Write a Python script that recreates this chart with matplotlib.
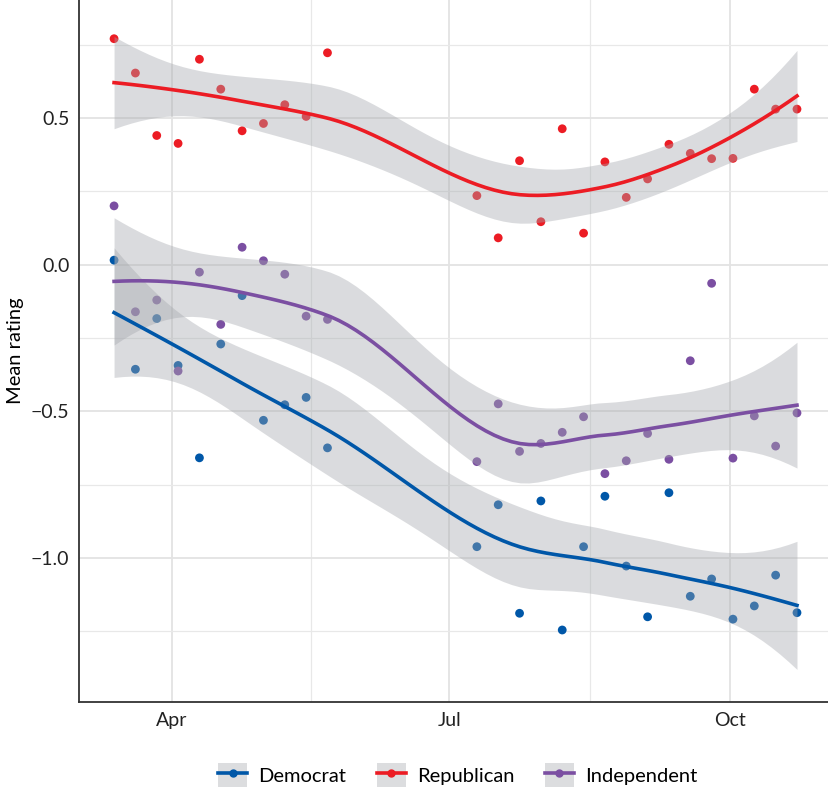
import numpy as np
import pandas as pd
import matplotlib
matplotlib.use("Agg")
import matplotlib.pyplot as plt
import matplotlib.dates as mdates
from matplotlib.lines import Line2D
from matplotlib.patches import Patch
from matplotlib.ticker import MultipleLocator, FixedLocator, FuncFormatter

plt.rcParams['font.family'] = ['Lato', 'DejaVu Sans']

# weekly polls, weeks 11-16 are missing
week_index = [0, 1, 2, 3, 4, 5, 6, 7, 8, 9, 10,
              17, 18, 19, 20, 21, 22, 23, 24, 25, 26, 27, 28, 29, 30, 31, 32]
start_date = "2020-03-13"

republican = [0.770, 0.653, 0.440, 0.413, 0.700, 0.598, 0.456, 0.481, 0.545, 0.505, 0.722,
              0.235, 0.091, 0.354, 0.146, 0.463, 0.107, 0.350, 0.229, 0.292, 0.410, 0.379,
              0.361, 0.362, 0.598, 0.530, 0.530]
independent = [0.200, -0.161, -0.121, -0.363, -0.026, -0.204, 0.059, 0.013, -0.033, -0.176, -0.187,
               -0.672, -0.475, -0.637, -0.610, -0.572, -0.519, -0.713, -0.669, -0.576, -0.664,
               -0.328, -0.064, -0.660, -0.516, -0.619, -0.506]
democrat = [0.015, -0.357, -0.184, -0.344, -0.659, -0.271, -0.106, -0.531, -0.478, -0.453, -0.625,
            -0.962, -0.819, -1.189, -0.806, -1.246, -0.962, -0.790, -1.028, -1.201, -0.778,
            -1.131, -1.072, -1.209, -1.164, -1.059, -1.187]

party_names = ["Democrat", "Republican", "Independent"]
party_colors = ["#0057A8", "#EC1C24", "#7B4FA2"]


def t_ppf(p, df):
    # quantile of Student t, numerically (no scipy)
    grid = np.linspace(0, 10, 20001)
    pdf = (1 + grid ** 2 / df) ** (-(df + 1) / 2)
    cdf = np.concatenate([[0], np.cumsum((pdf[1:] + pdf[:-1]) / 2 * np.diff(grid))])
    cdf = 0.5 + 0.5 * cdf / cdf[-1]
    return np.interp(p, cdf, grid)


def local_rows(x, x0, span):
    """operator rows for value and slope of local quadratic fit at x0"""
    n = len(x)
    q = int(np.floor(n * span))
    d = np.abs(x - x0)
    h = np.sort(d)[q - 1]
    w = np.clip(1 - (d / h) ** 3, 0, None) ** 3
    X = np.column_stack([np.ones(n), x - x0, (x - x0) ** 2])
    XtW = X.T * w
    B = np.linalg.solve(XtW @ X, XtW)
    return B[0], B[1]


def kd_vertices(x, span, cell=0.2):
    # cell boundaries as in R's loess (surface = "interpolate")
    xs = np.sort(x)
    fc = int(np.floor(len(x) * span * cell))
    margin = 0.005 * (xs[-1] - xs[0])
    verts = {xs[0] - margin, xs[-1] + margin}

    def split(l, u, vlo, vhi):
        if u - l + 1 <= fc:
            return
        m = (l + u) // 2
        t = xs[m]
        if t == vlo or t == vhi:
            return
        verts.add(t)
        split(l, m, vlo, t)
        split(m + 1, u, t, vhi)

    split(0, len(xs) - 1, min(verts), max(verts))
    return np.array(sorted(verts))


def interp_operator(x, xq, span):
    verts = kd_vertices(x, span)
    V0, V1 = zip(*[local_rows(x, v, span) for v in verts])
    V0, V1 = np.array(V0), np.array(V1)
    rows = []
    for xi in xq:
        i = min(np.searchsorted(verts, xi, side="right") - 1, len(verts) - 2)
        h = verts[i + 1] - verts[i]
        u = (xi - verts[i]) / h
        phi0 = (1 - u) ** 2 * (1 + 2 * u)
        phi1 = u ** 2 * (3 - 2 * u)
        psi0 = u * (1 - u) ** 2
        psi1 = -u ** 2 * (1 - u)
        rows.append(phi0 * V0[i] + phi1 * V0[i + 1] + h * (psi0 * V1[i] + psi1 * V1[i + 1]))
    return np.array(rows)


def loess_smooth(x, y, xnew, span=0.75, level=0.95):
    """loess fit + confidence band, like geom_smooth()"""
    x = np.asarray(x, float)
    y = np.asarray(y, float)
    L = interp_operator(x, x, span)
    res = y - L @ y
    M = np.eye(len(x)) - L
    MM = M.T @ M
    one_delta = np.trace(MM)
    two_delta = np.trace(MM @ MM)
    s = np.sqrt(np.sum(res ** 2) / one_delta)
    df = one_delta ** 2 / two_delta
    Ln = interp_operator(x, xnew, span)
    fit = Ln @ y
    se = s * np.sqrt(np.sum(Ln ** 2, axis=1))
    t = t_ppf(level / 2 + 0.5, df)
    return fit, fit - t * se, fit + t * se


dates = pd.Timestamp(start_date) + pd.to_timedelta(np.array(week_index) * 7, unit="D")
xnum = mdates.date2num(dates.to_pydatetime())
xgrid = np.linspace(xnum.min(), xnum.max(), 80)

fig = plt.figure(figsize=(8.29, 7.9), dpi=100)
ax = fig.add_axes([79 / 829, 88 / 790, 750 / 829, 702 / 790])

series = [democrat, republican, independent]
for vals, color in zip(series, party_colors):
    ax.scatter(xnum, vals, s=40, color=color, edgecolors="none", zorder=2)

for vals, color in zip(series, party_colors):
    fit, lo, hi = loess_smooth(xnum, vals, xgrid)
    ax.fill_between(xgrid, lo, hi, color="#A4A7AD", alpha=0.4, linewidth=0, zorder=3)
    ax.plot(xgrid, fit, color=color, lw=2.6, zorder=4)

# axes limits
x_apr = mdates.datestr2num("2020-04-01")
ax.set_xlim(x_apr - 30.5, x_apr + 215.5)
ax.set_ylim(-1.4915, 0.902)

ax.xaxis.set_major_locator(mdates.MonthLocator(bymonth=[4, 7, 10]))
ax.xaxis.set_major_formatter(mdates.DateFormatter("%b"))
majors = ax.get_xticks()
ax.xaxis.set_minor_locator(FixedLocator((majors[:-1] + majors[1:]) / 2))
ax.yaxis.set_major_locator(MultipleLocator(0.5))
ax.yaxis.set_minor_locator(MultipleLocator(0.25))
ax.yaxis.set_major_formatter(FuncFormatter(lambda v, p: f"{v:.1f}".replace("-", "\u2212")))

ax.grid(which="major", color="#E3E3E3", lw=1.3, zorder=0)
ax.grid(which="minor", color="#E8E8E8", lw=0.9, zorder=0)
ax.set_axisbelow(True)
ax.tick_params(which="both", length=0, labelsize=14, colors="#222222")
ax.tick_params(axis="y", pad=7)
ax.tick_params(axis="x", pad=7)

for side in ["top", "right"]:
    ax.spines[side].set_visible(False)
for side in ["left", "bottom"]:
    ax.spines[side].set_color("#333333")
    ax.spines[side].set_linewidth(1.3)

ax.set_ylabel("Mean rating", fontsize=14.5, labelpad=5)

handles = []
for color in party_colors:
    handles.append((Patch(facecolor="#DCDDDF", edgecolor="none"),
                    Line2D([], [], color=color, lw=2.6, marker="o", markersize=5)))
fig.legend(handles, party_names, loc="center", bbox_to_anchor=(0.552, 0.019), ncol=3,
           frameon=False, fontsize=14.5, handlelength=1.45, handleheight=1.4,
           columnspacing=1.5, handletextpad=0.55)

fig.savefig("out.png", dpi=100)
